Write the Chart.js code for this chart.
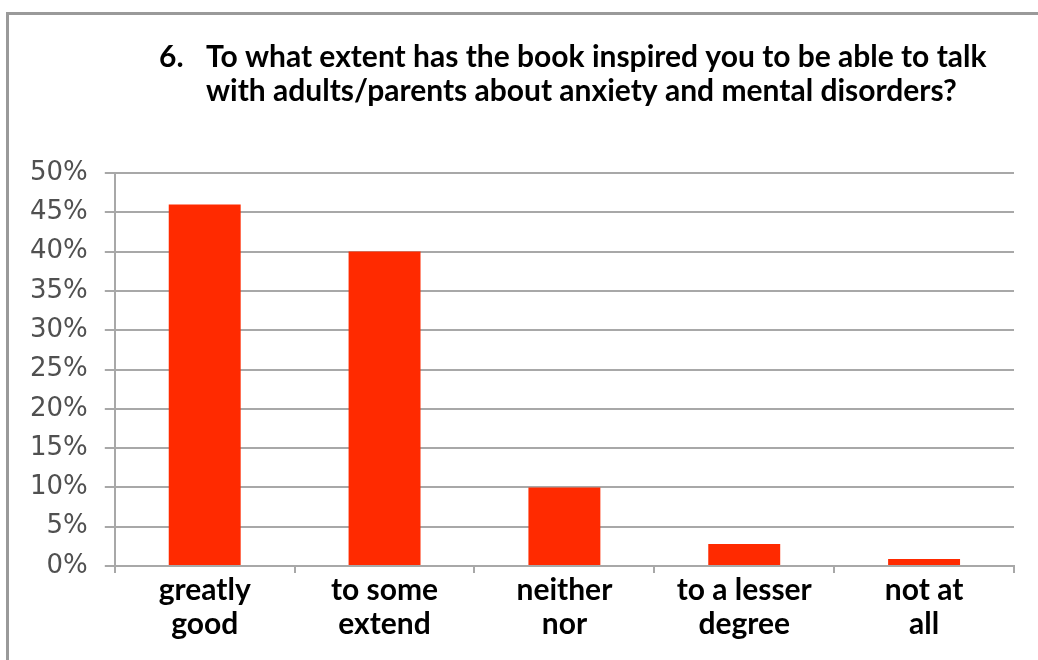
<!DOCTYPE html>
<html>
<head>
<meta charset="utf-8">
<script src="https://cdn.jsdelivr.net/npm/chart.js@4"></script>
<style>
  html, body { margin: 0; padding: 0; background: #fff; }
  #wrap { position: relative; width: 1038px; height: 660px; overflow: hidden; }
  #frame { position: absolute; left: 6px; top: 12px; width: 1040px; height: 660px;
           border-top: 3px solid #9a9a9a; border-left: 3px solid #9a9a9a; }
  #chart { position: absolute; left: 0; top: 0; }
</style>
</head>
<body>
<div id="wrap">
  <div id="frame"></div>
  <canvas id="chart" width="1038" height="660"></canvas>
</div>
<script>
// Datos del gráfico
const titleNumber = '6.';
const titleLines = [
    'To what extent has the book inspired you to be able to talk',
    'with adults/parents about anxiety and mental disorders?'
];
const categories = [
    ['greatly', 'good'],
    ['to some', 'extend'],
    ['neither', 'nor'],
    ['to a lesser', 'degree'],
    ['not at', 'all']
];
const percentValues = [46, 40, 10, 2.8, 0.9];
const yTicks = [0, 5, 10, 15, 20, 25, 30, 35, 40, 45, 50];

const GRID = '#a8a8a8';

// Título con sangría francesa (número + texto)
const titlePlugin = {
    id: 'numberedTitle',
    afterDraw(chart) {
        const c = chart.ctx;
        c.save();
        c.fillStyle = '#000';
        c.font = 'bold 30px Lato';
        c.textBaseline = 'alphabetic';
        c.fillText(titleNumber, 159, 67);
        titleLines.forEach((line, i) => c.fillText(line, 206, 67 + i * 34));
        c.restore();
    }
};

const ctx = document.getElementById('chart').getContext('2d');
new Chart(ctx, {
    type: 'bar',
    data: {
        labels: categories,
        datasets: [{
            data: percentValues,
            backgroundColor: '#ff2a00',
            borderWidth: 0,
            barPercentage: 0.4,
            categoryPercentage: 1.0
        }]
    },
    options: {
        responsive: false,
        animation: false,
        layout: { padding: { left: 13, right: 24, top: 173, bottom: 18 } },
        plugins: {
            legend: { display: false },
            tooltip: { enabled: false }
        },
        scales: {
            x: {
                offset: true,
                grid: { display: true, drawOnChartArea: false, color: GRID, lineWidth: 2, tickLength: 7, offset: true },
                border: { color: GRID, width: 2 },
                ticks: { color: '#000', font: { family: 'Lato', weight: 'bold', size: 30, lineHeight: 1.15 }, padding: 0, maxRotation: 0, autoSkip: false }
            },
            y: {
                min: 0,
                max: 50,
                afterBuildTicks(axis) { axis.ticks = yTicks.map(v => ({ value: v })); },
                grid: { color: GRID, lineWidth: 2, tickLength: 10 },
                border: { color: GRID, width: 2 },
                ticks: { color: '#505050', font: { family: 'DejaVu Sans', size: 26 }, padding: 17, callback: v => v + '%' }
            }
        }
    },
    plugins: [titlePlugin]
});
</script>
</body>
</html>
